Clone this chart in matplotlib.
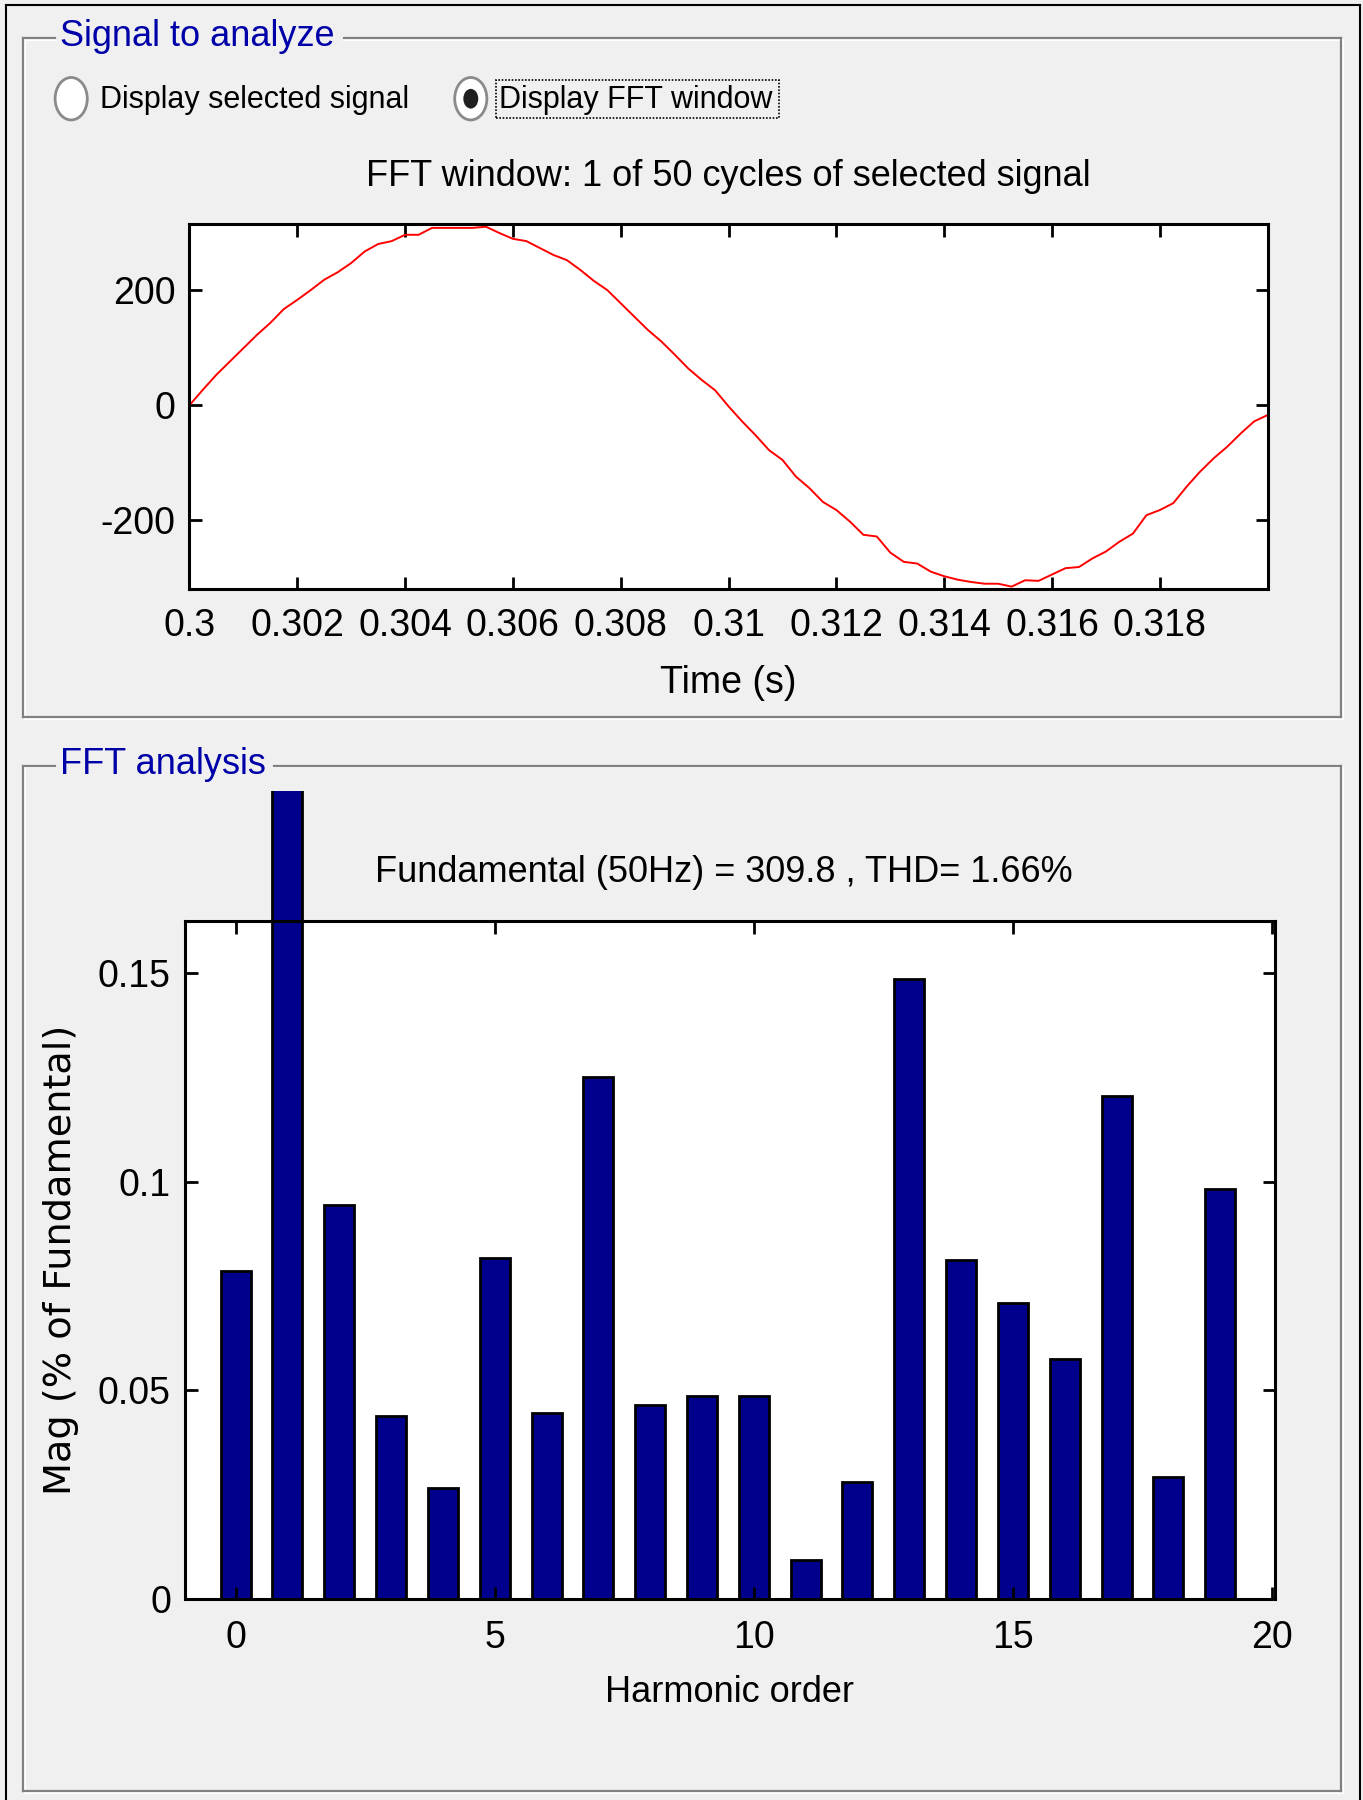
import numpy as np
import matplotlib.pyplot as plt
from matplotlib.patches import Rectangle, Circle
from matplotlib.transforms import Bbox, TransformedBbox

# signal in the FFT window (every 0.25 ms)
t_sig = [0.30000, 0.30025, 0.30050, 0.30075, 0.30100, 0.30125, 0.30150, 0.30175, 0.30200,
         0.30225, 0.30250, 0.30275, 0.30300, 0.30325, 0.30350, 0.30375, 0.30400, 0.30425,
         0.30450, 0.30475, 0.30500, 0.30525, 0.30550, 0.30575, 0.30600, 0.30625, 0.30650,
         0.30675, 0.30700, 0.30725, 0.30750, 0.30775, 0.30800, 0.30825, 0.30850, 0.30875,
         0.30900, 0.30925, 0.30950, 0.30975, 0.31000, 0.31025, 0.31050, 0.31075, 0.31100,
         0.31125, 0.31150, 0.31175, 0.31200, 0.31225, 0.31250, 0.31275, 0.31300, 0.31325,
         0.31350, 0.31375, 0.31400, 0.31425, 0.31450, 0.31475, 0.31500, 0.31525, 0.31550,
         0.31575, 0.31600, 0.31625, 0.31650, 0.31675, 0.31700, 0.31725, 0.31750, 0.31775,
         0.31800, 0.31825, 0.31850, 0.31875, 0.31900, 0.31925, 0.31950, 0.31975, 0.32000]
v_sig = [0, 27, 53, 76, 99, 122, 143, 167, 183,
         200, 218, 231, 247, 267, 280, 285, 296, 296,
         308, 308, 308, 308, 310, 299, 289, 285, 273,
         261, 252, 235, 216, 200, 177, 154, 131, 111,
         88, 64, 44, 26, -2, -28, -52, -78, -95,
         -124, -144, -168, -182, -202, -225, -228, -256, -272,
         -275, -289, -297, -303, -307, -310, -310, -315, -304,
         -305, -294, -283, -281, -266, -254, -237, -223, -191,
         -182, -170, -141, -115, -92, -72, -49, -28, -17]
t_ticks = [0.3, 0.302, 0.304, 0.306, 0.308, 0.31, 0.312, 0.314, 0.316, 0.318]
t_labels = ['0.3', '0.302', '0.304', '0.306', '0.308', '0.31', '0.312', '0.314', '0.316', '0.318']
v_ticks = [-200, 0, 200]

# harmonic spectrum (% of fundamental)
harm = list(range(20))
mag = [0.0787, 0.200, 0.0944, 0.0440, 0.0267, 0.0817, 0.0446, 0.1252, 0.0465, 0.0487,
       0.0487, 0.0094, 0.0281, 0.1486, 0.0812, 0.0710, 0.0575, 0.1205, 0.0292, 0.0982]
h_ticks = [0, 5, 10, 15, 20]
m_ticks = [0, 0.05, 0.1, 0.15]
m_labels = ['0', '0.05', '0.1', '0.15']

plt.rcParams['font.family'] = ['Liberation Sans', 'DejaVu Sans']
plt.rcParams['axes.unicode_minus'] = False
BG = '#f0f0f0'
BLUE = '#0000a8'

fig = plt.figure(figsize=(13.63, 18), dpi=100, facecolor=BG)


# positions measured on a 1187x1568 copy of the screen
def fx(p):
    return p / 1187.0


def fy(p):
    return 1 - p / 1568.0


def ln(xs, ys, **kw):
    fig.add_artist(plt.Line2D([fx(x) for x in xs], [fy(y) for y in ys], transform=fig.transFigure, **kw))


# outer frame
ln([5, 5], [4, 1568], color='black', lw=1.5)
ln([5, 1184], [4, 4], color='black', lw=1.5)
ln([1184, 1184], [4, 1568], color='black', lw=1.5)


def group_box(top, bottom, label, lab_right):
    for off, col in ((1.5, 'white'), (0, '#808080')):
        ln([20 + off, 20 + off], [top + off, bottom + off], color=col, lw=1.6)
        ln([1168 + off, 1168 + off], [top + off, bottom + off], color=col, lw=1.6)
        ln([20 + off, 1168 + off], [bottom + off, bottom + off], color=col, lw=1.6)
        ln([20 + off, 48], [top + off, top + off], color=col, lw=1.6)
        ln([lab_right, 1168 + off], [top + off, top + off], color=col, lw=1.6)
    fig.text(fx(52), fy(top - 1), label, color=BLUE, fontsize=26, ha='left', va='center')


group_box(33, 625, 'Signal to analyze', 300)
group_box(667, 1560, 'FFT analysis', 239)

# radio buttons
for cx, on in ((62, False), (410, True)):
    fig.add_artist(Circle((fx(cx), fy(86)), fx(14), transform=fig.transFigure,
                          facecolor='white', edgecolor='#8a8a8a', lw=2))
    if on:
        fig.add_artist(Circle((fx(cx), fy(86)), fx(6.5), transform=fig.transFigure,
                              facecolor='#202020', edgecolor='none'))
fig.text(fx(87), fy(87), 'Display selected signal', fontsize=22, ha='left', va='center')
fig.text(fx(435), fy(87), 'Display FFT window', fontsize=22, ha='left', va='center')
fig.add_artist(Rectangle((fx(432), fy(103)), fx(678) - fx(432), fy(70) - fy(103),
                         transform=fig.transFigure, fill=False, ec='black', lw=1.2, ls=(0, (1, 1))))

# top plot
ax1 = fig.add_axes([fx(165), fy(513), fx(1104) - fx(165), fy(195) - fy(513)])
ax1.plot(t_sig, v_sig, color='red', lw=1.4)
ax1.set_xlim(0.3, 0.32)
ax1.set_ylim(-319, 315)
ax1.set_xticks(t_ticks)
ax1.set_xticklabels(t_labels)
ax1.set_yticks(v_ticks)
ax1.set_title('FFT window: 1 of 50 cycles of selected signal', fontsize=26, pad=27)
ax1.set_xlabel('Time (s)', fontsize=27, labelpad=15)

# bottom plot
ax2 = fig.add_axes([fx(161), fy(1393), fx(1110) - fx(161), fy(802) - fy(1393)])
bars = ax2.bar(harm, mag, width=0.58, color='#00008c', edgecolor='black', lw=2)
clip = TransformedBbox(Bbox.from_extents(0, 0, 1, fy(689)), fig.transFigure)
for b in bars:
    b.set_clip_on(True)
    b.set_clip_box(clip)
ax2.set_xlim(-0.98, 20.05)
ax2.set_ylim(0, 0.1626)
ax2.set_xticks(h_ticks)
ax2.set_yticks(m_ticks)
ax2.set_yticklabels(m_labels)
ax2.set_xlabel('Harmonic order', fontsize=26, labelpad=14)
ax2.set_ylabel('Mag (% of Fundamental)', fontsize=27.5, labelpad=14, family='DejaVu Sans')
fig.text(fx(630), fy(760), 'Fundamental (50Hz) = 309.8 , THD= 1.66%', fontsize=26,
         ha='center', va='center')

for ax, pad in ((ax1, 14), (ax2, 15)):
    ax.set_facecolor('white')
    for s in ax.spines.values():
        s.set_linewidth(2.2)
    ax.tick_params(direction='in', length=9, width=2, top=True, right=True,
                   labelsize=27, pad=pad)
    ax.tick_params(axis='y', pad=10)

fig.savefig('out.png', dpi=100, facecolor=BG)
